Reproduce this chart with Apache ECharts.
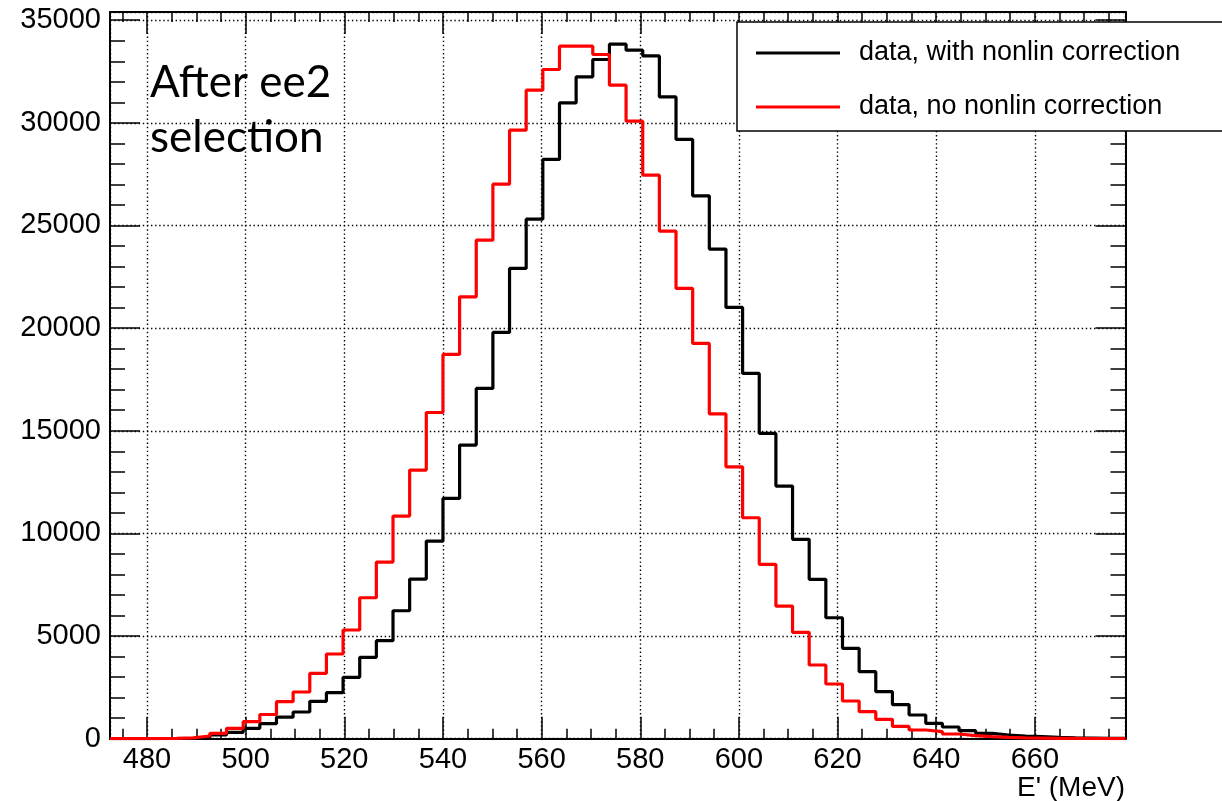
<!DOCTYPE html>
<html>
<head>
<meta charset="utf-8">
<title>E' spectrum after ee2 selection</title>
<script src="https://cdn.jsdelivr.net/npm/echarts/dist/echarts.min.js"></script>
<style>
  html, body { margin: 0; padding: 0; background: #fff; }
  #chart { width: 1222px; height: 801px; }
</style>
</head>
<body>
<div id="chart"></div>
<script>
// Histogram binning (MeV): 61 bins of 3.375 MeV starting at 472.5
const BIN_LOW = 472.5;
const BIN_WIDTH = 3.375;

// Bin contents, data with nonlinearity correction
const withNonlin = [
  0, 0, 5, 10, 20, 60, 180, 311, 506, 730,
  1050, 1300, 1820, 2241, 2990, 3964, 4773, 6234, 7777, 9628,
  11707, 14303, 17064, 19792, 22909, 25309, 28217, 30973, 32240, 33087,
  33832, 33540, 33262, 31265, 29191, 26444, 23849, 21009, 17795, 14873,
  12306, 9711, 7763, 5893, 4402, 3263, 2289, 1660, 1154, 750,
  570, 390, 263, 180, 131, 97, 60, 40, 30, 20,
  15
];

// Bin contents, data without nonlinearity correction
const noNonlin = [
  0, 5, 10, 20, 40, 130, 263, 506, 828, 1180,
  1802, 2274, 3185, 4125, 5294, 6867, 8605, 10845, 13086, 15890,
  18720, 21526, 24287, 27014, 29643, 31592, 32600, 33735, 33735, 33330,
  31835, 30082, 27452, 24725, 21934, 19256, 15820, 13246, 10763, 8493,
  6463, 5181, 3589, 2664, 1836, 1315, 945, 600, 424, 341,
  229, 146, 97, 60, 40, 30, 20, 15, 10, 5,
  5
];

const seriesNames = ['data, with nonlin correction', 'data, no nonlin correction'];
const seriesColors = ['#000000', '#ff0000'];
const xRange = [472.5, 678.375];
const yRange = [0, 35400];
const xTitle = "E' (MeV)";

// Left bin edges paired with contents, closed by the last upper edge
function toSteps(counts) {
  const pts = counts.map((c, i) => [BIN_LOW + i * BIN_WIDTH, c]);
  pts.push([BIN_LOW + counts.length * BIN_WIDTH, counts[counts.length - 1]]);
  return pts;
}

const FONT = "'Liberation Sans', Arial, Helvetica, sans-serif";
const dotted = { color: '#000', width: 1.4, type: [1.4, 2.7] };

const chart = echarts.init(document.getElementById('chart'), null, { renderer: 'canvas' });

const xCommon = {
  type: 'value', min: xRange[0], max: xRange[1], splitNumber: 10,
  axisLine: { show: true, onZero: false, lineStyle: { color: '#000', width: 2 } },
  axisTick: { show: true, inside: true, length: 22, lineStyle: { color: '#000', width: 1.5 } },
  minorTick: { show: true, splitNumber: 4, length: 10, lineStyle: { color: '#000', width: 1.5 } }
};
const yCommon = {
  type: 'value', min: yRange[0], max: yRange[1], interval: 5000,
  axisLine: { show: true, onZero: false, lineStyle: { color: '#000', width: 2 } },
  axisTick: { show: true, inside: true, length: 30, lineStyle: { color: '#000', width: 1.5 } },
  minorTick: { show: true, splitNumber: 5, length: 15, lineStyle: { color: '#000', width: 1.5 } }
};

chart.setOption({
  animation: false,
  backgroundColor: '#fff',
  title: {
    text: 'After ee2\nselection',
    left: 150, top: 55, padding: 0,
    textStyle: { fontFamily: 'Lato', fontSize: 44, fontWeight: 'normal', lineHeight: 55, color: '#000' }
  },
  legend: {
    orient: 'vertical',
    left: 737, top: 22,
    padding: [16, 80, 9, 19],
    itemGap: 24,
    itemWidth: 84, itemHeight: 3,
    icon: 'rect',
    selectedMode: false,
    backgroundColor: '#fff',
    borderColor: '#000', borderWidth: 1.5, borderRadius: 0,
    z: 10,
    textStyle: { fontFamily: FONT, fontSize: 27, color: '#000', lineHeight: 30, padding: [0, 0, 0, 14] },
    data: seriesNames
  },
  // x-axis title, right-aligned under the end of the axis
  graphic: [{
    type: 'text', right: 97, top: 774,
    style: { text: xTitle, font: "28px 'Liberation Sans', Arial, sans-serif", fill: '#000' }
  }],
  grid: { left: 110, top: 12, width: 1015.5, height: 726.7, containLabel: false },
  xAxis: [
    Object.assign({}, xCommon, {
      position: 'bottom',
      axisLabel: { show: true, fontFamily: FONT, fontSize: 29, color: '#000', margin: 7, showMinLabel: false, showMaxLabel: false },
      splitLine: { show: true, lineStyle: dotted }
    }),
    Object.assign({}, xCommon, {
      position: 'top',
      axisLabel: { show: false },
      splitLine: { show: false }
    })
  ],
  yAxis: [
    Object.assign({}, yCommon, {
      position: 'left',
      axisLabel: {
        show: true, fontFamily: FONT, fontSize: 29, color: '#000', margin: 9, showMaxLabel: false,
        formatter: (v) => String(v)
      },
      splitLine: { show: true, lineStyle: dotted }
    }),
    Object.assign({}, yCommon, {
      position: 'right',
      axisLabel: { show: false },
      splitLine: { show: false }
    })
  ],
  series: [
    {
      name: seriesNames[0], type: 'line', step: 'end',
      xAxisIndex: 0, yAxisIndex: 0,
      showSymbol: false, symbol: 'none',
      color: seriesColors[0],
      lineStyle: { color: seriesColors[0], width: 3.2 },
      data: toSteps(withNonlin), z: 3
    },
    {
      name: seriesNames[1], type: 'line', step: 'end',
      xAxisIndex: 0, yAxisIndex: 0,
      showSymbol: false, symbol: 'none',
      color: seriesColors[1],
      lineStyle: { color: seriesColors[1], width: 3.2 },
      data: toSteps(noNonlin), z: 4
    }
  ]
});
</script>
</body>
</html>
